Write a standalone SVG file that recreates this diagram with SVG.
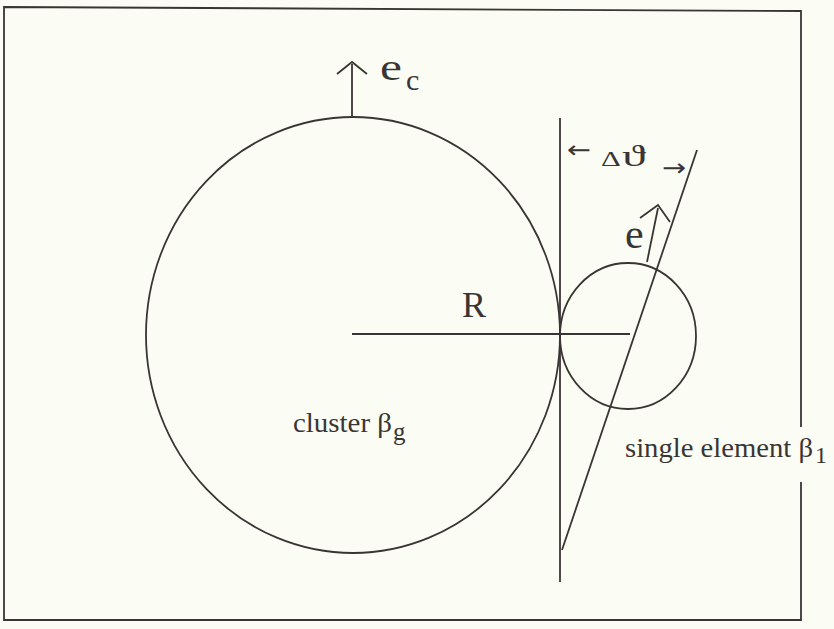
<svg xmlns="http://www.w3.org/2000/svg" width="834" height="629" viewBox="0 0 834 629">
<style>
.ln{stroke:#3a3535;stroke-width:1.8;fill:none}
.t{font-family:"Liberation Serif",serif;fill:#3a3535}
.a{font-family:"DejaVu Sans",sans-serif;fill:#3a3535}
</style>
<rect width="834" height="629" fill="#fbfcf3"/>
<path d="M801,427 L801,11 L4,7 L4,620 L801,620 L801,482" class="ln" stroke-width="1.5"/>
<g id="cluster">
<ellipse cx="353" cy="335" rx="207" ry="218" class="ln"/>
<text class="t" x="293" y="432" font-size="27" textLength="99" lengthAdjust="spacingAndGlyphs">cluster β</text>
<text class="t" x="393" y="440" font-size="25">g</text>
</g>
<g id="element">
<ellipse cx="628" cy="336" rx="68" ry="73" class="ln"/>
<text class="t" x="625" y="457" font-size="28" textLength="188" lengthAdjust="spacingAndGlyphs">single element β</text>
<text class="t" x="815" y="463" font-size="24">1</text>
</g>
<g id="connectors">
<line x1="352" y1="334" x2="630" y2="334" class="ln"/>
<line x1="560" y1="118" x2="560" y2="582" class="ln"/>
<line x1="562" y1="550" x2="697" y2="150" class="ln"/>
<line x1="352" y1="116" x2="352" y2="64" class="ln" stroke-width="3"/>
<path d="M337,74 L352,62 L367,74" class="ln" stroke-width="2.5"/>
<line x1="647" y1="262" x2="658" y2="208" class="ln" stroke-width="3.5"/>
<path d="M640,218 L658,205 L670,222" class="ln" stroke-width="2.5"/>
</g>
<text class="t" transform="translate(380,80) scale(1.3,1)" font-size="38">e</text>
<text class="t" x="406" y="90" font-size="30">c</text>
<text class="t" x="462" y="317" font-size="36">R</text>
<text class="t" x="625" y="248" font-size="42">e</text>
<text class="a" transform="translate(567,158) scale(1.2,1)" font-size="24">←</text>
<text class="t" transform="translate(601,166) scale(1.4,1)" font-size="22">Δ</text>
<text class="t" transform="translate(622,166) scale(1.6,1)" font-size="30">ϑ</text>
<text class="a" transform="translate(662,176) scale(1.2,1)" font-size="24">→</text>
</svg>
